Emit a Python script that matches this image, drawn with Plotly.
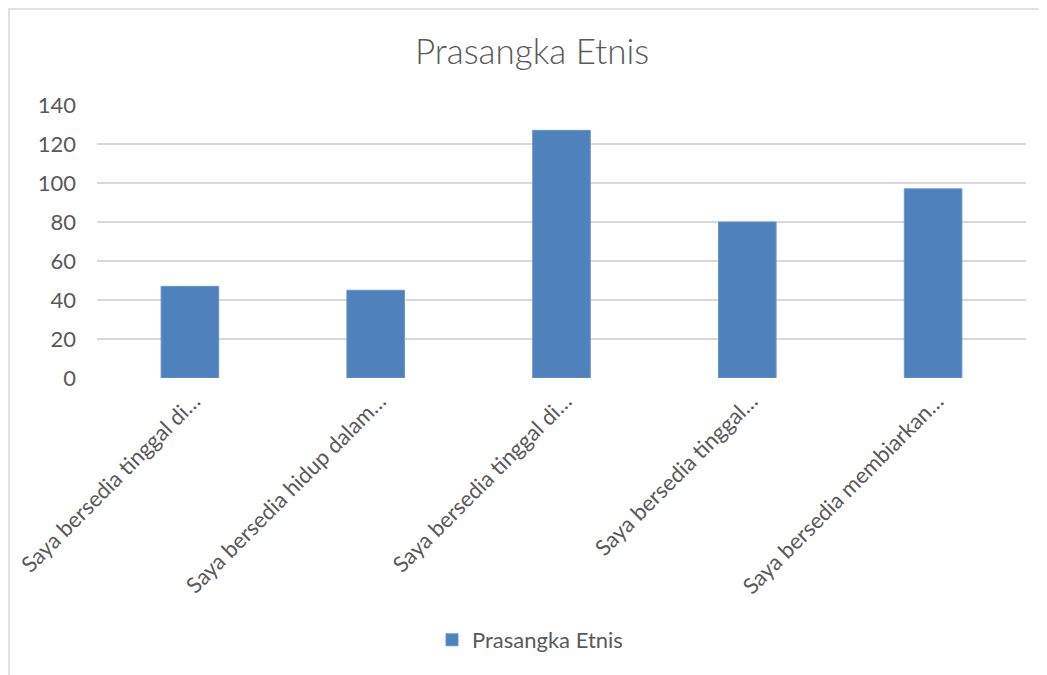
import plotly.graph_objects as go

categories = [
    "Saya bersedia tinggal di…",
    "Saya bersedia hidup dalam…",
    "Saya bersedia tinggal di…",
    "Saya bersedia tinggal…",
    "Saya bersedia membiarkan…",
]
values = [47, 45, 127, 80, 97]
series_name = "Prasangka Etnis"
title_text = "Prasangka Etnis"
y_ticks = [0, 20, 40, 60, 80, 100, 120, 140]

# page body has an 8px default margin; work in screen pixels and offset
OFF = 8
W, H = 1047 - OFF, 675 - OFF
PL, PR, PT, PB = 97, 1026, 105, 378  # plot area in screen pixels
L = PL - OFF
T = PT - OFF
R = W - (PR - OFF)
B = H - (PB - OFF)
pw = PR - PL
ph = PB - PT

def px_x(p):
    return (p - PL) / pw

def px_y(p):
    return (PB - p) / ph

text_color = "#595959"
font_family = "Lato"
positions = list(range(len(categories)))

fig = go.Figure()
fig.add_trace(go.Bar(
    x=positions,
    y=values,
    name=series_name,
    marker=dict(color="#4F81BD", line=dict(color="#6A96CC", width=1)),
    width=0.31,
    showlegend=True,
))

fig.update_layout(
    width=W, height=H,
    margin=dict(l=L, r=R, t=T, b=B, autoexpand=False),
    paper_bgcolor="white",
    plot_bgcolor="white",
    font=dict(family=font_family, color=text_color, size=22),
    title=dict(
        text=title_text,
        x=px_x(532), xref="paper", xanchor="center",
        y=1 - (52 - OFF) / H, yref="container", yanchor="middle",
        font=dict(family=font_family, size=35, color=text_color, weight=300),
    ),
    xaxis=dict(
        tickmode="array", tickvals=positions, ticktext=categories,
        range=[-0.5, len(categories) - 0.5],
        tickangle=-45, showgrid=False, zeroline=False,
        showline=False, ticks="", automargin=False,
        ticklabelstandoff=5, ticklabelshift=4,
        tickfont=dict(family=font_family, size=22, color=text_color),
    ),
    yaxis=dict(
        range=[0, 140], tickmode="array", tickvals=y_ticks,
        showgrid=True, gridcolor="#D9D9D9", gridwidth=1.5,
        zeroline=False, showline=False, ticks="", automargin=False,
        ticklabelstandoff=20,
        tickfont=dict(family=font_family, size=22, color=text_color),
    ),
    legend=dict(
        orientation="h", x=px_x(530), xanchor="center",
        y=px_y(640), yanchor="middle",
        font=dict(family=font_family, size=22, color=text_color),
        bgcolor="rgba(0,0,0,0)",
    ),
    shapes=[dict(
        type="rect", xref="paper", yref="paper",
        x0=px_x(9), x1=px_x(1100), y0=px_y(720), y1=px_y(9),
        line=dict(color="#D9D9D9", width=1.5), fillcolor="rgba(0,0,0,0)",
        layer="below",
    )],
)

fig.write_html("out.html")
